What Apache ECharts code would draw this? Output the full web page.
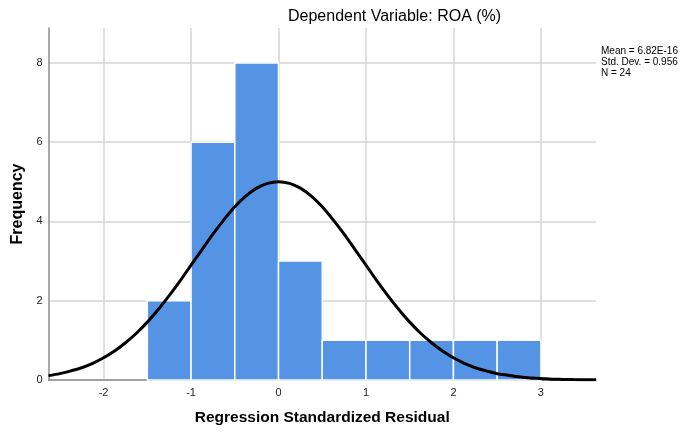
<!DOCTYPE html>
<html>
<head>
<meta charset="utf-8">
<script src="https://cdn.jsdelivr.net/npm/echarts@6/dist/echarts.min.js"></script>
<style>
  html, body {margin: 0; padding: 0; background: #fff;}
  #main {width: 683px; height: 434px;}
</style>
</head>
<body>
<div id="main"></div>
<script>
// histogram bins (left edge, width 0.5) and frequencies
const binStart = [-1.5, -1, -0.5, 0, 0.5, 1, 1.5, 2, 2.5];
const binWidth = 0.5;
const counts = [2, 6, 8, 3, 1, 1, 1, 1, 1];

// normal curve
const curveX = [-2.63, -2.5, -2.375, -2.25, -2.125, -2, -1.875, -1.75, -1.625, -1.5, -1.375, -1.25,
    -1.125, -1, -0.875, -0.75, -0.625, -0.5, -0.375, -0.25, -0.125, 0,
    0.125, 0.25, 0.375, 0.5, 0.625, 0.75, 0.875, 1, 1.125, 1.25, 1.375, 1.5, 1.625, 1.75,
    1.875, 2, 2.125, 2.25, 2.375, 2.5, 2.625, 2.75, 2.875, 3, 3.125, 3.25, 3.375, 3.5, 3.63];
const curveY = [0.11, 0.16, 0.23, 0.31, 0.42, 0.56, 0.73, 0.94, 1.18, 1.46, 1.78, 2.13,
    2.5, 2.9, 3.29, 3.68, 4.04, 4.37, 4.64, 4.84, 4.96, 5.0,
    4.96, 4.84, 4.64, 4.37, 4.04, 3.68, 3.29, 2.9, 2.5, 2.13, 1.78, 1.46, 1.18, 0.94,
    0.73, 0.56, 0.42, 0.31, 0.23, 0.16, 0.12, 0.08, 0.05, 0.04, 0.02, 0.015, 0.01, 0.006, 0.004];

const xTicks = [-2, -1, 0, 1, 2, 3];
const yTicks = [0, 2, 4, 6, 8];
const statLines = ['Mean = 6.82E-16', 'Std. Dev. = 0.956', 'N = 24'];

const chart = echarts.init(document.getElementById('main'), null, {renderer: 'canvas'});

const gridColor = '#d4d4d4';
const axisColor = '#8c8c8c';
const font = 'Liberation Sans, Arial, sans-serif';

const option = {
    animation: false,
    backgroundColor: '#fff',
    grid: {left: 48.5, top: 28, right: 87, bottom: 54, outerBoundsMode: 'none'},
    graphic: [
        {
            type: 'text', left: 288, top: 9,
            style: {text: 'Dependent Variable: ROA (%)', font: '16px ' + font, fill: '#000'}
        },
        {
            type: 'text', left: 601, top: 46,
            style: {text: statLines.join('\n'), font: '10px ' + font, fill: '#000', lineHeight: 11}
        }
    ],
    xAxis: {
        type: 'value',
        min: -2.63,
        max: 3.63,
        name: 'Regression Standardized Residual',
        nameLocation: 'middle',
        nameGap: 30,
        nameTextStyle: {fontFamily: font, fontSize: 15.5, fontWeight: 'bold', color: '#000'},
        axisLine: {show: true, onZero: false, lineStyle: {color: axisColor, width: 1.5}},
        axisTick: {show: false, customValues: xTicks},
        axisLabel: {customValues: xTicks, fontFamily: font, fontSize: 11, color: '#222', margin: 7},
        splitLine: {show: true, lineStyle: {color: gridColor, width: 1.5}}
    },
    yAxis: {
        type: 'value',
        min: 0,
        max: 8.88,
        name: 'Frequency',
        nameLocation: 'middle',
        nameGap: 23,
        nameTextStyle: {fontFamily: font, fontSize: 16, fontWeight: 'bold', color: '#000'},
        axisLine: {show: true, onZero: false, lineStyle: {color: axisColor, width: 1.5}},
        axisTick: {show: false, customValues: yTicks},
        axisLabel: {customValues: yTicks, fontFamily: font, fontSize: 11, color: '#222', margin: 6},
        splitLine: {show: true, lineStyle: {color: gridColor, width: 1.5}}
    },
    series: [
        {
            type: 'custom',
            data: binStart.map((s, i) => [s, s + binWidth, counts[i]]),
            encode: {x: [0, 1], y: 2},
            renderItem: function (params, api) {
                const p0 = api.coord([api.value(0), api.value(2)]);
                const p1 = api.coord([api.value(1), 0]);
                return {
                    type: 'rect',
                    shape: {x: p0[0], y: p0[1], width: p1[0] - p0[0], height: p1[1] - p0[1]},
                    style: {fill: '#5594e4', stroke: '#fff', lineWidth: 1.5}
                };
            },
            z: 2
        },
        {
            type: 'line',
            data: curveX.map((x, i) => [x, curveY[i]]),
            smooth: 0.3,
            showSymbol: false,
            lineStyle: {color: '#000', width: 3},
            z: 5
        }
    ]
};
chart.setOption(option);
</script>
</body>
</html>
